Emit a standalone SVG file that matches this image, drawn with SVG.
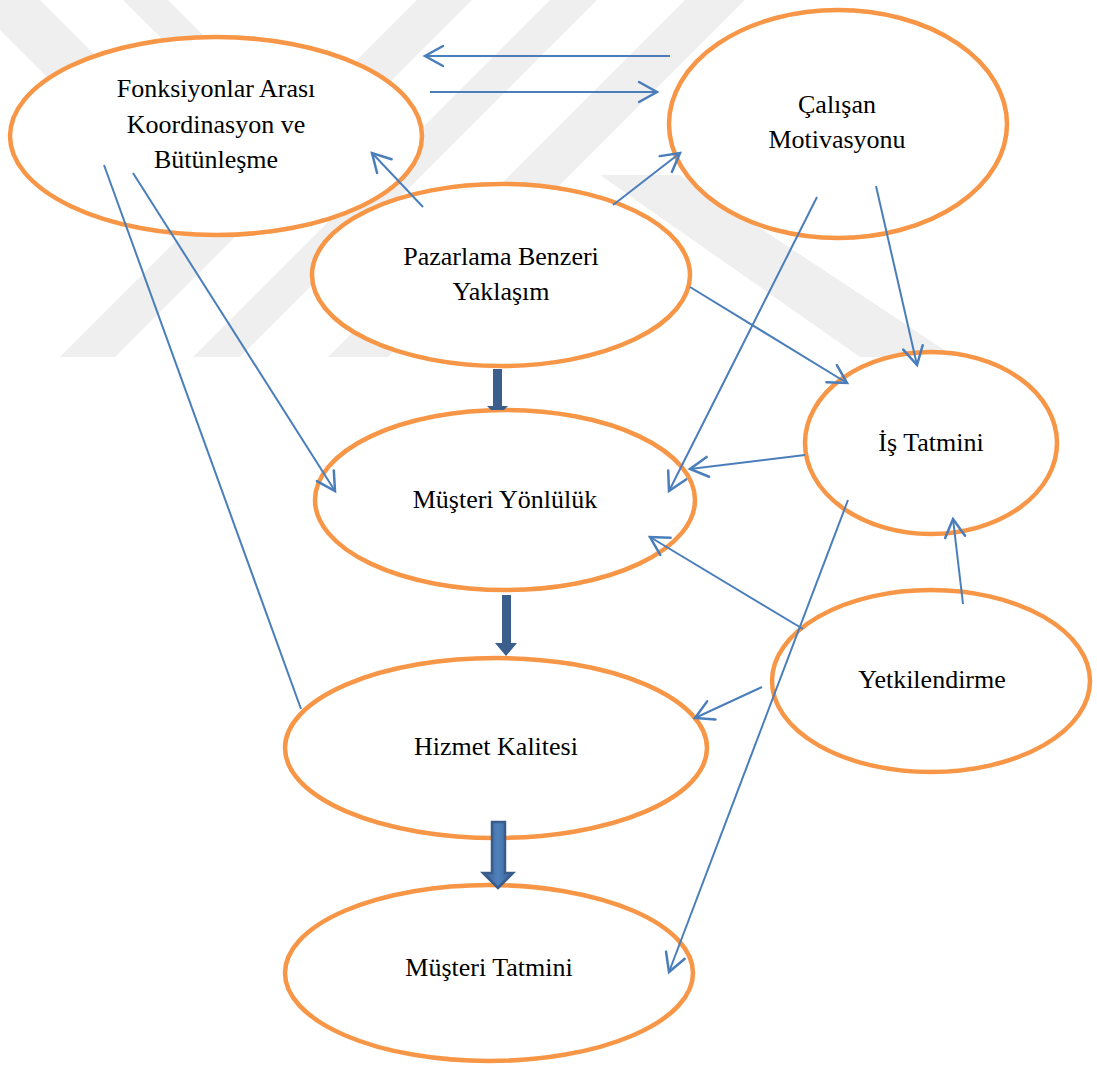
<svg xmlns="http://www.w3.org/2000/svg" width="1097" height="1068" viewBox="0 0 1097 1068">
  <style>
    .wm { fill: #efefef; }
    .node ellipse { fill: #ffffff; stroke: #F79646; stroke-width: 4.5; }
    .node text { font-family: "Liberation Serif", "Times New Roman", serif; font-size: 26px; fill: #000000; text-anchor: middle; }
    .ln { stroke: #4A7EBB; stroke-width: 2; fill: none; }
    .arr { marker-end: url(#open); }
    .thick { fill: #3B5E8C; }
  </style>
  <defs>
    <marker id="open" viewBox="0 0 22 22" refX="20" refY="11" markerWidth="22" markerHeight="22" markerUnits="userSpaceOnUse" orient="auto" overflow="visible">
      <path d="M2,1 L20,11 L2,21" fill="none" stroke="#4A7EBB" stroke-width="2.5" stroke-linecap="round" stroke-linejoin="miter"/>
    </marker>
    <linearGradient id="thickGrad" x1="0" y1="0" x2="1" y2="0">
      <stop offset="0" stop-color="#3A5F8E"/>
      <stop offset="0.5" stop-color="#4F81BD"/>
      <stop offset="1" stop-color="#3A5F8E"/>
    </linearGradient>
  </defs>
  <rect width="1097" height="1068" fill="#ffffff"/>

  <g id="watermark">
    <polygon class="wm" points="-30,0 40,0 130,90 60,90"/>
    <polygon class="wm" points="123,0 168,0 215,47 170,47"/>
    <polygon class="wm" points="417,0 472,0 115,357 60,357"/>
    <polygon class="wm" points="550,0 597,0 240,357 193,357"/>
    <polygon class="wm" points="685,0 745,0 388,357 328,357"/>
    <polygon class="wm" points="600,175 680,175 955,357 860,357"/>
  </g>

  <g id="node-fonksiyonlar" class="node">
    <ellipse cx="216" cy="136" rx="206" ry="99"/>
    <text x="216" y="97">Fonksiyonlar Arası</text>
    <text x="216" y="133">Koordinasyon ve</text>
    <text x="216" y="168">Bütünleşme</text>
  </g>
  <g id="node-calisan" class="node">
    <ellipse cx="838" cy="124" rx="169" ry="114"/>
    <text x="837" y="113">Çalışan</text>
    <text x="837" y="148">Motivasyonu</text>
  </g>
  <g id="node-pazarlama" class="node">
    <ellipse cx="501" cy="275" rx="189" ry="91"/>
    <text x="501" y="265">Pazarlama Benzeri</text>
    <text x="501" y="300">Yaklaşım</text>
  </g>
  <g id="node-musteri-yonluluk" class="node">
    <ellipse cx="505" cy="500" rx="190" ry="90"/>
    <text x="505" y="508">Müşteri Yönlülük</text>
  </g>
  <g id="node-is-tatmini" class="node">
    <ellipse cx="931" cy="443" rx="126" ry="91"/>
    <text x="931" y="451">İş Tatmini</text>
  </g>
  <g id="node-yetkilendirme" class="node">
    <ellipse cx="931" cy="681" rx="159" ry="91"/>
    <text x="932" y="688">Yetkilendirme</text>
  </g>
  <g id="node-hizmet-kalitesi" class="node">
    <ellipse cx="496" cy="748" rx="211" ry="90"/>
    <text x="496" y="755">Hizmet Kalitesi</text>
  </g>
  <g id="node-musteri-tatmini" class="node">
    <ellipse cx="489" cy="973" rx="204" ry="88"/>
    <text x="489" y="976">Müşteri Tatmini</text>
  </g>

  <g id="connectors">
    <line class="ln arr" x1="670" y1="56" x2="425" y2="56"/>
    <line class="ln arr" x1="430" y1="92" x2="657" y2="92"/>
    <line class="ln arr" x1="423" y1="207" x2="372" y2="153"/>
    <line class="ln arr" x1="613" y1="205" x2="680" y2="153"/>
    <line class="ln arr" x1="690" y1="287" x2="847" y2="383"/>
    <line class="ln arr" x1="817" y1="197" x2="669" y2="491"/>
    <line class="ln arr" x1="876" y1="186" x2="917" y2="365"/>
    <line class="ln arr" x1="805" y1="455" x2="690" y2="469"/>
    <line class="ln arr" x1="133" y1="173" x2="335" y2="491"/>
    <line class="ln" x1="104" y1="165" x2="301" y2="709"/>
    <line class="ln arr" x1="848" y1="500" x2="669" y2="972"/>
    <line class="ln arr" x1="803" y1="629" x2="650" y2="537"/>
    <line class="ln arr" x1="762" y1="687" x2="695" y2="718"/>
    <line class="ln arr" x1="963" y1="604" x2="953" y2="519"/>
    <polygon class="thick" points="493,369 502,369 502,406 508,406 504,410 491,410 487,406 493,406"/>
    <polygon class="thick" points="502,595 511,595 511,643 517,643 506,656 495,643 502,643"/>
    <polygon points="492,822 505,822 505,873 513,873 498,888 483,873 492,873" fill="url(#thickGrad)" stroke="#385D8A" stroke-width="2.5" stroke-linejoin="miter"/>
  </g>
</svg>
